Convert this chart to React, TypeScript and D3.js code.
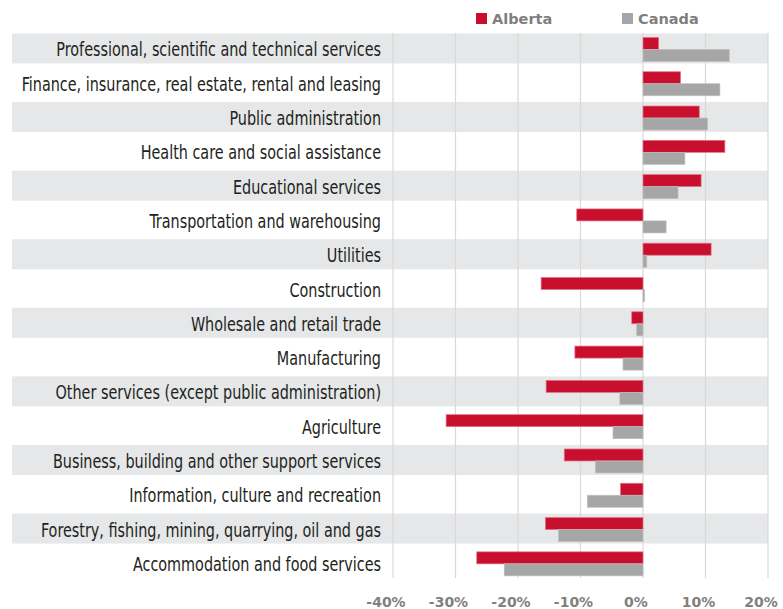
import React, { useLayoutEffect, useRef, useState } from "react";
import * as d3 from "d3";

const categories = [
  "Professional, scientific and technical services",
  "Finance, insurance, real estate, rental and leasing",
  "Public administration",
  "Health care and social assistance",
  "Educational services",
  "Transportation and warehousing",
  "Utilities",
  "Construction",
  "Wholesale and retail trade",
  "Manufacturing",
  "Other services (except public administration)",
  "Agriculture",
  "Business, building and other support services",
  "Information, culture and recreation",
  "Forestry, fishing, mining, quarrying, oil and gas",
  "Accommodation and food services",
];
const alberta = [2.5, 6.0, 9.0, 13.1, 9.3, -10.6, 10.9, -16.3, -1.8, -10.9, -15.5, -31.5, -12.6, -3.6, -15.6, -26.6];
const canada = [13.8, 12.3, 10.3, 6.7, 5.6, 3.7, 0.6, 0.25, -1.0, -3.2, -3.7, -4.8, -7.6, -8.9, -13.5, -22.2];
const ticks = [-40, -30, -20, -10, 0, 10, 20];
const seriesNames = ["Alberta", "Canada"];

const RED = "#C8102E";
const GRAY = "#A6A6A6";

export default function App() {
  const W = 783, H = 609;
  const x = d3.scaleLinear().domain([-40, 20]).range([393, 768]);
  const y = d3.scaleBand<string>().domain(categories).range([32.3, 581]).paddingInner(0);
  const bw = y.bandwidth();
  const barH = bw * 0.35;
  const labelRef = useRef<SVGTextElement>(null);
  const [sx, setSx] = useState(1);
  useLayoutEffect(() => {
    if (labelRef.current) {
      const w = labelRef.current.getComputedTextLength();
      if (w > 0) setSx(325 / w);
    }
  }, []);
  const labelFont = "'Liberation Sans Narrow', 'DejaVu Sans Condensed', 'Roboto', sans-serif";
  const boldFont = "'DejaVu Sans', 'Open Sans', sans-serif";
  return (
    <svg width={W} height={H} style={{ position: "absolute", left: 0, top: 0 }}>
      <rect x={0} y={0} width={W} height={H} fill="#fff" />
      {categories.map((c, i) =>
        i % 2 === 0 ? (
          <rect key={"s" + c} x={12} y={(y(c) as number) + bw / 2 - 16} width={x(20) - 12} height={30} fill="#E6E7E8" />
        ) : null
      )}
      {ticks.map((t) => (
        <line key={"g" + t} x1={x(t)} x2={x(t)} y1={33} y2={578} stroke="#D9D9D9" strokeWidth={1.2} />
      ))}
      {categories.map((c, i) => {
        const cy = (y(c) as number) + bw / 2;
        const a = alberta[i], k = canada[i];
        return (
          <g key={"b" + c}>
            <rect x={Math.min(x(0), x(a))} y={cy - barH} width={Math.abs(x(a) - x(0))} height={barH} fill={RED} stroke="#E27384" strokeWidth={0.7} />
            <rect x={Math.min(x(0), x(k))} y={cy} width={Math.max(Math.abs(x(k) - x(0)), 1)} height={barH} fill={GRAY} stroke="#BDBDBD" strokeWidth={0.7} />
          </g>
        );
      })}
      {categories.map((c, i) => {
        const cy = (y(c) as number) + bw / 2;
        return (
          <text
            key={"l" + c}
            ref={i === 0 ? labelRef : undefined}
            transform={`translate(381,${cy + 7}) scale(${sx},1)`}
            textAnchor="end"
            fontFamily={labelFont}
            fontSize={19}
            fill="#231F20"
          >
            {c}
          </text>
        );
      })}
      {ticks.map((t) => (
        <text key={"t" + t} x={x(t) - 7} y={607} textAnchor="middle" fontFamily={boldFont} fontWeight="bold" fontSize={14} fill="#808080">
          {t + "%"}
        </text>
      ))}
      {seriesNames.map((s, i) => (
        <g key={"lg" + s} transform={`translate(${476 + i * 146},0)`}>
          <rect x={0} y={13} width={11} height={11} fill={i === 0 ? RED : GRAY} />
          <text x={16} y={24} fontFamily={boldFont} fontWeight="bold" fontSize={14.5} fill="#7F7F7F">
            {s}
          </text>
        </g>
      ))}
    </svg>
  );
}
